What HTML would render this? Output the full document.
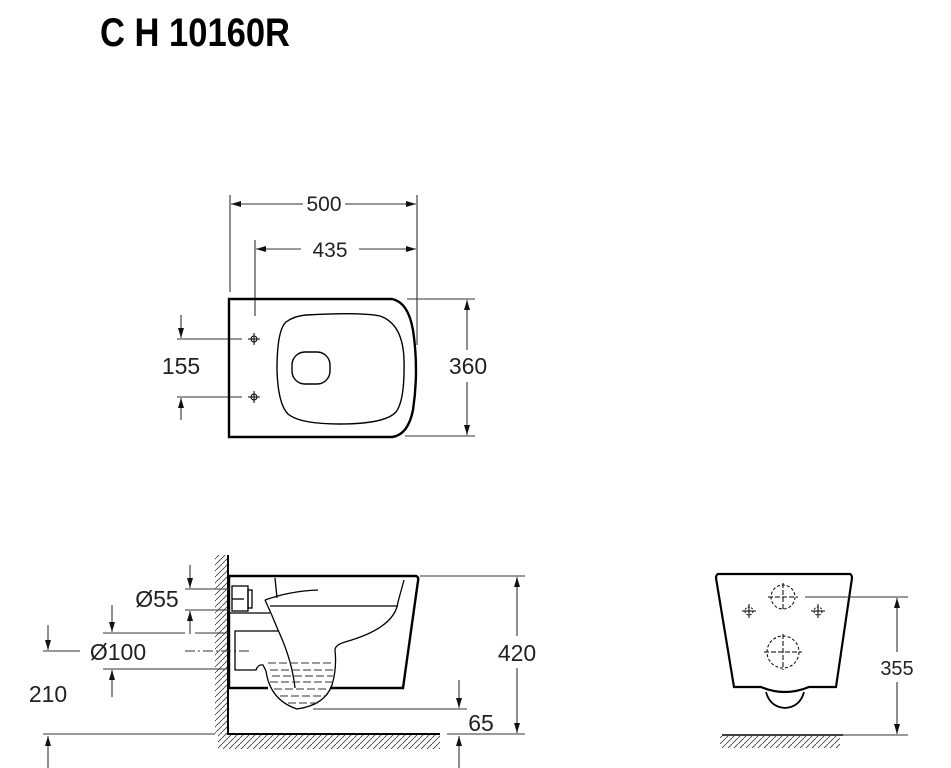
<!DOCTYPE html>
<html><head><meta charset="utf-8"><style>
html,body{margin:0;padding:0;background:#fff;width:951px;height:768px;overflow:hidden}
svg{display:block}
text{font-family:"Liberation Sans",sans-serif;fill:#222}
</style></head><body>
<svg width="951" height="768" viewBox="0 0 951 768" xmlns="http://www.w3.org/2000/svg">
<defs>
<marker id="a" viewBox="0 0 10 10" refX="10" refY="5" markerWidth="10" markerHeight="10" orient="auto-start-reverse" markerUnits="userSpaceOnUse"><path d="M0,2 L10,5 L0,8 z" fill="#111"/></marker>
<pattern id="h" width="6" height="6" patternUnits="userSpaceOnUse"><path d="M-1,7 L7,-1" stroke="#444" stroke-width="0.9"/></pattern>
</defs>
<text x="100" y="46" font-family="Liberation Sans Narrow,Liberation Sans,sans-serif" font-size="40" font-weight="bold" style="fill:#000" textLength="190" lengthAdjust="spacingAndGlyphs">C H 10160R</text>

<g stroke="#333" stroke-width="1.1" fill="none">
<line x1="230" y1="195" x2="230" y2="292"/>
<line x1="417" y1="195" x2="417" y2="345"/>
<line x1="255" y1="240" x2="255" y2="316"/>
<line x1="231" y1="204" x2="303" y2="204" marker-start="url(#a)"/>
<line x1="345" y1="204" x2="416" y2="204" marker-end="url(#a)"/>
<line x1="256" y1="249" x2="301" y2="249" marker-start="url(#a)"/>
<line x1="359" y1="249" x2="416" y2="249" marker-end="url(#a)"/>
<line x1="407" y1="299" x2="475" y2="299"/>
<line x1="405" y1="436" x2="475" y2="436"/>
<line x1="467" y1="300" x2="467" y2="350" marker-start="url(#a)"/>
<line x1="467" y1="382" x2="467" y2="435" marker-end="url(#a)"/>
<line x1="177" y1="339" x2="242" y2="339"/>
<line x1="177" y1="397" x2="242" y2="397"/>
<line x1="181" y1="315" x2="181" y2="338" marker-end="url(#a)"/>
<line x1="181" y1="420" x2="181" y2="398" marker-end="url(#a)"/>
</g>
<text x="324" y="211" font-size="21" text-anchor="middle">500</text>
<text x="330" y="257" font-size="21" text-anchor="middle">435</text>
<text x="468" y="374" font-size="23" text-anchor="middle">360</text>
<text x="181" y="374" font-size="23" text-anchor="middle">155</text>

<path d="M229,299 L392,299 Q408,302 413,330 Q419,370 413,410 Q408,435 392,437 L229,437 Z" fill="none" stroke="#000" stroke-width="2.4"/>
<path d="M306,315 Q360,312 380,316 Q403,324 404,360 Q405,400 396,412 Q385,424 340,424 Q300,424 288,414 Q278,404 277,370 Q277,330 286,322 Q294,316 306,315 Z" fill="none" stroke="#000" stroke-width="1.4"/>
<rect x="292" y="352" width="38" height="32" rx="13" fill="none" stroke="#000" stroke-width="1.4"/>
<g stroke="#000" stroke-width="1" fill="none">
<circle cx="254" cy="339" r="3"/><line x1="248" y1="339" x2="260" y2="339"/><line x1="254" y1="333" x2="254" y2="345"/>
<circle cx="254" cy="397" r="3"/><line x1="248" y1="397" x2="260" y2="397"/><line x1="254" y1="391" x2="254" y2="403"/>
</g>

<rect x="215" y="555" width="13" height="180" fill="url(#h)"/>
<rect x="218" y="735" width="222" height="14" fill="url(#h)"/>
<line x1="228" y1="555" x2="228" y2="735" stroke="#000" stroke-width="2"/>
<line x1="228" y1="734" x2="440" y2="734" stroke="#000" stroke-width="2"/>
<path d="M229,576 L416,576 Q419,577 418,581 L403,688 L330,688" fill="none" stroke="#000" stroke-width="2.4"/>
<path d="M229,576 L229,688 L268,688" fill="none" stroke="#000" stroke-width="2.4"/>
<g stroke="#000" stroke-width="1.3" fill="none">
<path d="M266,671 Q270,700 297,709 Q325,705 332,685 Q337,668 335,650 Q335,645 345,642 Q395,628 398,602 L404,580"/>
<path d="M270,606 L398,606"/>
<path d="M265,600 Q290,591 318,590"/>
<path d="M275,578 L277,598"/>
<path d="M265,600 Q272,615 278,630 Q292,660 295,688"/>
<rect x="232" y="586" width="16" height="25"/>
<rect x="248" y="590" width="4" height="18"/>
<line x1="232" y1="599" x2="244" y2="599"/>
<line x1="229" y1="613" x2="270" y2="613"/>
<path d="M279,631 L235,631 L235,670 L256,670 Q258,664 263,665 L266,671"/>
</g>
<g stroke="#333" stroke-width="1" stroke-dasharray="8,3" fill="none">
<line x1="268" y1="663" x2="333" y2="663"/>
<line x1="270" y1="670" x2="333" y2="670"/>
<line x1="272" y1="676" x2="333" y2="676"/>
<line x1="270" y1="682" x2="333" y2="682"/>
<line x1="274" y1="689" x2="330" y2="689"/>
<line x1="280" y1="696" x2="325" y2="696"/>
<line x1="288" y1="703" x2="318" y2="703"/>
</g>
<line x1="185" y1="651" x2="250" y2="651" stroke="#333" stroke-dasharray="10,3,2,3"/>
<g stroke="#333" stroke-width="1.1" fill="none">
<line x1="185" y1="589" x2="230" y2="589"/>
<line x1="185" y1="610" x2="230" y2="610"/>
<line x1="190" y1="565" x2="190" y2="588" marker-end="url(#a)"/>
<line x1="190" y1="634" x2="190" y2="611" marker-end="url(#a)"/>
<line x1="103" y1="633" x2="185" y2="633"/><line x1="195" y1="633" x2="228" y2="633"/>
<line x1="103" y1="669" x2="228" y2="669"/>
<line x1="112" y1="605" x2="112" y2="632" marker-end="url(#a)"/>
<line x1="112" y1="697" x2="112" y2="670" marker-end="url(#a)"/>
<line x1="43" y1="651" x2="80" y2="651"/>
<line x1="48" y1="625" x2="48" y2="650" marker-end="url(#a)"/>
<line x1="43" y1="734" x2="215" y2="734"/>
<line x1="48" y1="768" x2="48" y2="736" marker-end="url(#a)"/>
<line x1="420" y1="576" x2="525" y2="576"/>
<line x1="447" y1="734" x2="525" y2="734"/>
<line x1="517" y1="577" x2="517" y2="636" marker-start="url(#a)"/>
<line x1="517" y1="668" x2="517" y2="733" marker-end="url(#a)"/>
<line x1="313" y1="709" x2="467" y2="709"/>
<line x1="459" y1="680" x2="459" y2="708" marker-end="url(#a)"/>
<line x1="459" y1="768" x2="459" y2="736" marker-end="url(#a)"/>
</g>
<text x="157" y="607" font-size="23" text-anchor="middle">Ø55</text>
<text x="118" y="660" font-size="23" text-anchor="middle">Ø100</text>
<text x="48" y="702" font-size="23" text-anchor="middle">210</text>
<text x="517" y="661" font-size="23" text-anchor="middle">420</text>
<text x="481" y="731" font-size="23" text-anchor="middle">65</text>

<path d="M718,574 L850,574 Q852,575 852,578 L836,687 L809,687 Q797,692 785,692 Q773,692 761,687 L734,687 L716,578 Q716,575 718,574 Z" fill="none" stroke="#000" stroke-width="2.2"/>
<path d="M766,692 Q770,707 785,708 Q800,707 804,692" fill="none" stroke="#000" stroke-width="1.8"/>
<rect x="720" y="736" width="120" height="12" fill="url(#h)"/>
<line x1="722" y1="735" x2="843" y2="735" stroke="#000" stroke-width="1.5"/>
<g stroke="#000" stroke-width="1" fill="none">
<circle cx="783" cy="597" r="12" stroke-dasharray="3,2"/>
<line x1="768" y1="597" x2="798" y2="597" stroke-dasharray="5,2"/><line x1="783" y1="583" x2="783" y2="611" stroke-dasharray="5,2"/>
<circle cx="783" cy="652" r="16" stroke-dasharray="3,2"/>
<line x1="764" y1="652" x2="802" y2="652" stroke-dasharray="5,2"/><line x1="783" y1="634" x2="783" y2="670" stroke-dasharray="5,2"/>
<circle cx="749" cy="611" r="4" stroke-dasharray="2,1.5"/><line x1="742" y1="611" x2="756" y2="611"/><line x1="749" y1="604" x2="749" y2="618"/>
<circle cx="818" cy="611" r="4" stroke-dasharray="2,1.5"/><line x1="811" y1="611" x2="825" y2="611"/><line x1="818" y1="604" x2="818" y2="618"/>
</g>
<g stroke="#333" stroke-width="1.1" fill="none">
<line x1="805" y1="597" x2="908" y2="597"/>
<line x1="843" y1="735" x2="908" y2="735"/>
<line x1="897" y1="598" x2="897" y2="652" marker-start="url(#a)"/>
<line x1="897" y1="682" x2="897" y2="734" marker-end="url(#a)"/>
</g>
<text x="897" y="675" font-size="20" text-anchor="middle">355</text>
</svg>
</body></html>
